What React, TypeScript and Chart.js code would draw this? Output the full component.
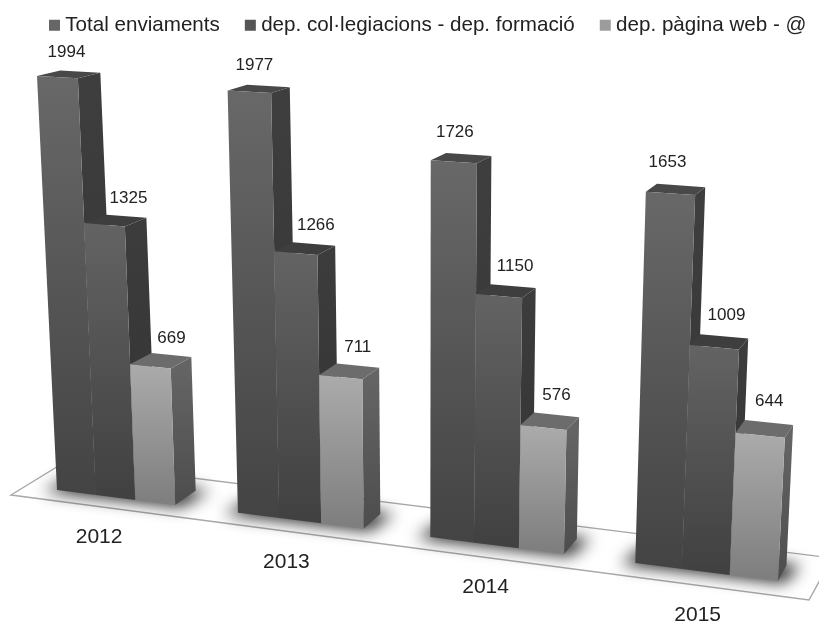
import React, { useEffect, useRef } from "react";
import { Chart, registerables } from "chart.js";

Chart.register(...registerables);

const years = ["2012", "2013", "2014", "2015"];
const totalEnviaments = [1994, 1977, 1726, 1653];
const depColFormacio = [1325, 1266, 1150, 1009];
const depWeb = [669, 711, 576, 644];
const seriesNames = ["Total enviaments", "dep. col·legiacions - dep. formació", "dep. pàgina web - @"];
const legendColors = ["#666666", "#555555", "#9c9c9c"];

const FONT = '"Liberation Sans", Arial, sans-serif';
const TEXT = "#222222";

// Camera calibration for the 3D look: where the plane of the bar fronts lands on screen.
const QUAD: [number, number][] = [[37, 76], [800, 119], [778, 581], [57, 490]];
const CALIB_VALUE = 1994;
const VP = { x: 1200, y: -200 };
const DEPTH = 0.02;

const STYLE = [
  { front: ["#686868", "#444444"], side: ["#3e3e3e", "#343434"], top: "#484848" },
  { front: ["#636363", "#414141"], side: ["#3c3c3c", "#333333"], top: "#3e3e3e" },
  { front: ["#ababab", "#7f7f7f"], side: ["#646464", "#4d4d4d"], top: "#6c6c6c" },
];

function squareToQuad(q: [number, number][]) {
  const [[x0, y0], [x1, y1], [x2, y2], [x3, y3]] = q;
  const dx1 = x1 - x2, dx2 = x3 - x2, sx = x0 - x1 + x2 - x3;
  const dy1 = y1 - y2, dy2 = y3 - y2, sy = y0 - y1 + y2 - y3;
  const den = dx1 * dy2 - dx2 * dy1;
  const g = (sx * dy2 - dx2 * sy) / den;
  const h = (dx1 * sy - sx * dy1) / den;
  const a = x1 - x0 + g * x1, b = x3 - x0 + h * x3, c = x0;
  const d = y1 - y0 + g * y1, e = y3 - y0 + h * y3, f = y0;
  return (u: number, v: number): [number, number] => {
    const w = g * u + h * v + 1;
    return [(a * u + b * v + c) / w, (d * u + e * v + f) / w];
  };
}

const back = (p: [number, number]): [number, number] => [
  p[0] + DEPTH * (VP.x - p[0]),
  p[1] + DEPTH * (VP.y - p[1]),
];

function poly(ctx: CanvasRenderingContext2D, pts: [number, number][]) {
  ctx.beginPath();
  pts.forEach((p, i) => (i ? ctx.lineTo(p[0], p[1]) : ctx.moveTo(p[0], p[1])));
  ctx.closePath();
}

function vGrad(ctx: CanvasRenderingContext2D, y0: number, y1: number, c: string[]) {
  const g = ctx.createLinearGradient(0, y0, 0, y1);
  g.addColorStop(0, c[0]);
  g.addColorStop(1, c[1]);
  return g;
}

const perspectiveBars = {
  id: "perspectiveBars",
  afterLayout(chart: any) {
    // legend sits close to the top edge and is shifted right; keep it on one row
    chart.legend.top = -15;
    chart.legend.left = 24;
    chart.legend.right = 900;
  },
  beforeDatasetsDraw(chart: any) {
    const ctx: CanvasRenderingContext2D = chart.ctx;
    const metas = [0, 1, 2].map((i) => chart.getDatasetMeta(i));
    const first = metas[0].data[0].getProps(["x", "width"], true);
    const last = metas[2].data[3].getProps(["x", "width"], true);
    const x0 = first.x - first.width / 2;
    const x1 = last.x + last.width / 2;
    const yS = chart.scales.y;
    const y0 = yS.getPixelForValue(CALIB_VALUE);
    const y1 = yS.getPixelForValue(0);
    const H = squareToQuad(QUAD);
    const P = (x: number, y: number) => H((x - x0) / (x1 - x0), (y - y0) / (y1 - y0));

    ctx.save();
    // floor
    poly(ctx, [[11, 495], [65, 462], [832, 558], [809, 600]]);
    ctx.fillStyle = "#ffffff";
    ctx.fill();
    ctx.strokeStyle = "#a8a8a8";
    ctx.lineWidth = 1.4;
    ctx.stroke();

    // soft shadows on the floor
    years.forEach((_, i) => {
      const a = metas[0].data[i].getProps(["x", "width", "base"], true);
      const b = metas[2].data[i].getProps(["x", "width", "base"], true);
      const fl = P(a.x - a.width / 2, a.base);
      const fr = P(b.x + b.width / 2, b.base);
      const br = back(fr);
      const bl = back(fl);
      ctx.save();
      ctx.filter = "blur(8px)";
      ctx.fillStyle = "rgba(0,0,0,0.85)";
      poly(ctx, [
        [fl[0] - 14, fl[1] + 1],
        [fr[0] + 6, fr[1] + 2],
        [br[0] + 14, br[1]],
        [bl[0] - 4, bl[1]],
      ]);
      ctx.fill();
      ctx.restore();
    });

    // bars: left to right inside each group
    metas.forEach((meta, ds) => {
      const st = STYLE[ds];
      meta.data.forEach((el: any) => {
        const { x, y, base, width } = el.getProps(["x", "y", "base", "width"], true);
        const fl = P(x - width / 2, y);
        const fr = P(x + width / 2, y);
        const br = P(x + width / 2, base);
        const bl = P(x - width / 2, base);
        poly(ctx, [fr, back(fr), back(br), br]);
        ctx.fillStyle = vGrad(ctx, fr[1], br[1], st.side);
        ctx.fill();
        poly(ctx, [fl, fr, back(fr), back(fl)]);
        ctx.fillStyle = st.top;
        ctx.fill();
        poly(ctx, [fl, fr, br, bl]);
        ctx.fillStyle = vGrad(ctx, fl[1], bl[1], st.front);
        ctx.fill();
      });
    });

    // value labels
    ctx.fillStyle = TEXT;
    ctx.textAlign = "center";
    ctx.textBaseline = "middle";
    ctx.font = `17px ${FONT}`;
    const ldx = [9, 24, 21];
    const ldy = [-25, -26, -28];
    metas.forEach((meta, ds) => {
      meta.data.forEach((el: any, i: number) => {
        const { x, y, width } = el.getProps(["x", "y", "width"], true);
        const l = P(x - width / 2, y);
        const r = P(x + width / 2, y);
        const v = chart.data.datasets[ds].data[i];
        ctx.fillText(String(v), (l[0] + r[0]) / 2 + ldx[ds] - 4 * i, (l[1] + r[1]) / 2 + ldy[ds] - 2 * i);
      });
    });

    // category labels
    ctx.font = `21px ${FONT}`;
    years.forEach((_, i) => {
      const a = metas[0].data[i].getProps(["x", "width", "base"], true);
      const b = metas[2].data[i].getProps(["x", "width", "base"], true);
      const l = P(a.x - a.width / 2, a.base);
      const r = P(b.x + b.width / 2, b.base);
      ctx.fillText(
        chart.scales.x.getLabelForValue(i),
        (l[0] + r[0]) / 2 - 17 + 2.67 * i,
        (l[1] + r[1]) / 2 + 40 + i
      );
    });
    ctx.restore();
    return false;
  },
};

export default function App() {
  const ref = useRef<HTMLCanvasElement>(null);
  useEffect(() => {
    const chart = new Chart(ref.current!, {
      type: "bar",
      data: {
        labels: years,
        datasets: [
          { label: seriesNames[0], data: totalEnviaments, backgroundColor: legendColors[0] },
          { label: seriesNames[1], data: depColFormacio, backgroundColor: legendColors[1] },
          { label: seriesNames[2], data: depWeb, backgroundColor: legendColors[2] },
        ],
      },
      options: {
        animation: false,
        responsive: false,
        devicePixelRatio: 1,
        datasets: { bar: { categoryPercentage: 0.66, barPercentage: 1 } },
        scales: {
          x: { display: false },
          y: { display: false, min: 0, max: 2000 },
        },
        plugins: {
          tooltip: { enabled: false },
          legend: {
            display: true,
            position: "top",
            align: "start",
            labels: {
              usePointStyle: true,
              pointStyle: "rect",
              boxWidth: 1,
              boxHeight: 11,
              padding: 30,
              color: TEXT,
              font: { family: FONT, size: 20.6 },
            },
          },
        },
      } as any,
      plugins: [perspectiveBars as any],
    });
    return () => chart.destroy();
  }, []);
  return (
    <div style={{ position: "absolute", left: 0, top: 0, width: 819, height: 624, background: "#fff" }}>
      <canvas ref={ref} width={819} height={624} style={{ display: "block", filter: "blur(0.4px)" }} />
    </div>
  );
}
